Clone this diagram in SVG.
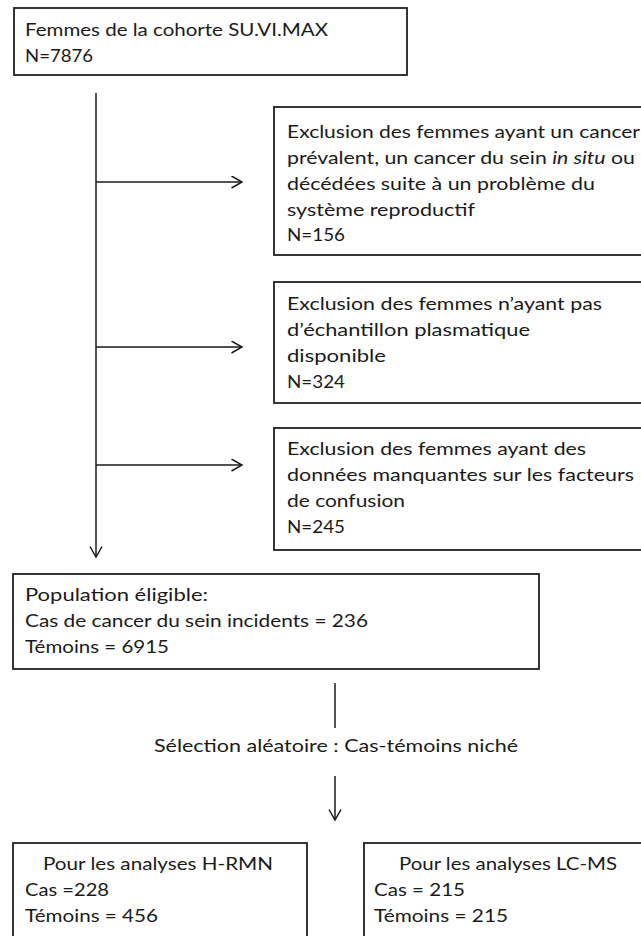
<svg xmlns="http://www.w3.org/2000/svg" width="641" height="936" viewBox="0 0 641 936">
<defs>
<style>
.box{fill:#fff;stroke:#202020;stroke-width:1.8}
.t{font-family:Lato,"Liberation Sans",sans-serif;font-size:17px;fill:#1a1a1a}
.ln{stroke:#1a1a1a;stroke-width:1.5;fill:none}
</style>
<marker id="arr" markerUnits="userSpaceOnUse" markerWidth="14" markerHeight="14" refX="11" refY="6.5" orient="auto">
<path d="M0.5,0.5 L11,6.5 L0.5,12.5" fill="none" stroke="#1a1a1a" stroke-width="1.5"/>
</marker>
</defs>
<rect width="641" height="936" fill="#fff"/>

<g id="connectors">
<line class="ln" x1="96" y1="93" x2="96" y2="557" marker-end="url(#arr)"/>
<line class="ln" x1="96" y1="182" x2="242" y2="182" marker-end="url(#arr)"/>
<line class="ln" x1="96" y1="347" x2="242" y2="347" marker-end="url(#arr)"/>
<line class="ln" x1="96" y1="465" x2="242" y2="465" marker-end="url(#arr)"/>
<line class="ln" x1="335" y1="683" x2="335" y2="728"/>
<line class="ln" x1="335" y1="776" x2="335" y2="820" marker-end="url(#arr)"/>
</g>

<g id="cohorte">
<rect class="box" x="14" y="8" width="393" height="67"/>
<text class="t" x="25" y="36" textLength="303" lengthAdjust="spacingAndGlyphs">Femmes de la cohorte SU.VI.MAX</text>
<text class="t" x="25" y="62" textLength="68" lengthAdjust="spacingAndGlyphs">N=7876</text>
</g>

<g id="exclusion1">
<rect class="box" x="274" y="107" width="400" height="148"/>
<text class="t" x="287" y="138" textLength="353" lengthAdjust="spacingAndGlyphs">Exclusion des femmes ayant un cancer</text>
<text class="t" x="287" y="164" textLength="348" lengthAdjust="spacingAndGlyphs">prévalent, un cancer du sein <tspan font-style="italic">in situ</tspan> ou</text>
<text class="t" x="287" y="190" textLength="308" lengthAdjust="spacingAndGlyphs">décédées suite à un problème du</text>
<text class="t" x="287" y="216" textLength="188" lengthAdjust="spacingAndGlyphs">système reproductif</text>
<text class="t" x="287" y="241" textLength="58" lengthAdjust="spacingAndGlyphs">N=156</text>
</g>

<g id="exclusion2">
<rect class="box" x="274" y="282" width="400" height="121"/>
<text class="t" x="287" y="310" textLength="315" lengthAdjust="spacingAndGlyphs">Exclusion des femmes n’ayant pas</text>
<text class="t" x="287" y="336" textLength="243" lengthAdjust="spacingAndGlyphs">d’échantillon plasmatique</text>
<text class="t" x="287" y="362" textLength="99" lengthAdjust="spacingAndGlyphs">disponible</text>
<text class="t" x="287" y="388" textLength="58" lengthAdjust="spacingAndGlyphs">N=324</text>
</g>

<g id="exclusion3">
<rect class="box" x="274" y="428" width="400" height="122"/>
<text class="t" x="287" y="455" textLength="299" lengthAdjust="spacingAndGlyphs">Exclusion des femmes ayant des</text>
<text class="t" x="287" y="481" textLength="347" lengthAdjust="spacingAndGlyphs">données manquantes sur les facteurs</text>
<text class="t" x="287" y="507" textLength="118" lengthAdjust="spacingAndGlyphs">de confusion</text>
<text class="t" x="287" y="533" textLength="58" lengthAdjust="spacingAndGlyphs">N=245</text>
</g>

<g id="population">
<rect class="box" x="13" y="574" width="526" height="95"/>
<text class="t" x="25" y="601" textLength="183" lengthAdjust="spacingAndGlyphs">Population éligible:</text>
<text class="t" x="25" y="627" textLength="343" lengthAdjust="spacingAndGlyphs">Cas de cancer du sein incidents = 236</text>
<text class="t" x="25" y="653" textLength="144" lengthAdjust="spacingAndGlyphs">Témoins = 6915</text>
</g>

<g id="selection">
<text class="t" x="154" y="752" textLength="364" lengthAdjust="spacingAndGlyphs">Sélection aléatoire : Cas-témoins niché</text>
</g>

<g id="hrmn">
<rect class="box" x="13" y="843" width="294" height="110"/>
<text class="t" x="43" y="870" textLength="230" lengthAdjust="spacingAndGlyphs">Pour les analyses H-RMN</text>
<text class="t" x="25" y="896" textLength="84" lengthAdjust="spacingAndGlyphs">Cas =228</text>
<text class="t" x="25" y="922" textLength="133" lengthAdjust="spacingAndGlyphs">Témoins = 456</text>
</g>

<g id="lcms">
<rect class="box" x="364" y="843" width="300" height="110"/>
<text class="t" x="399" y="870" textLength="218" lengthAdjust="spacingAndGlyphs">Pour les analyses LC-MS</text>
<text class="t" x="374" y="896" textLength="91" lengthAdjust="spacingAndGlyphs">Cas = 215</text>
<text class="t" x="374" y="922" textLength="134" lengthAdjust="spacingAndGlyphs">Témoins = 215</text>
</g>
</svg>
